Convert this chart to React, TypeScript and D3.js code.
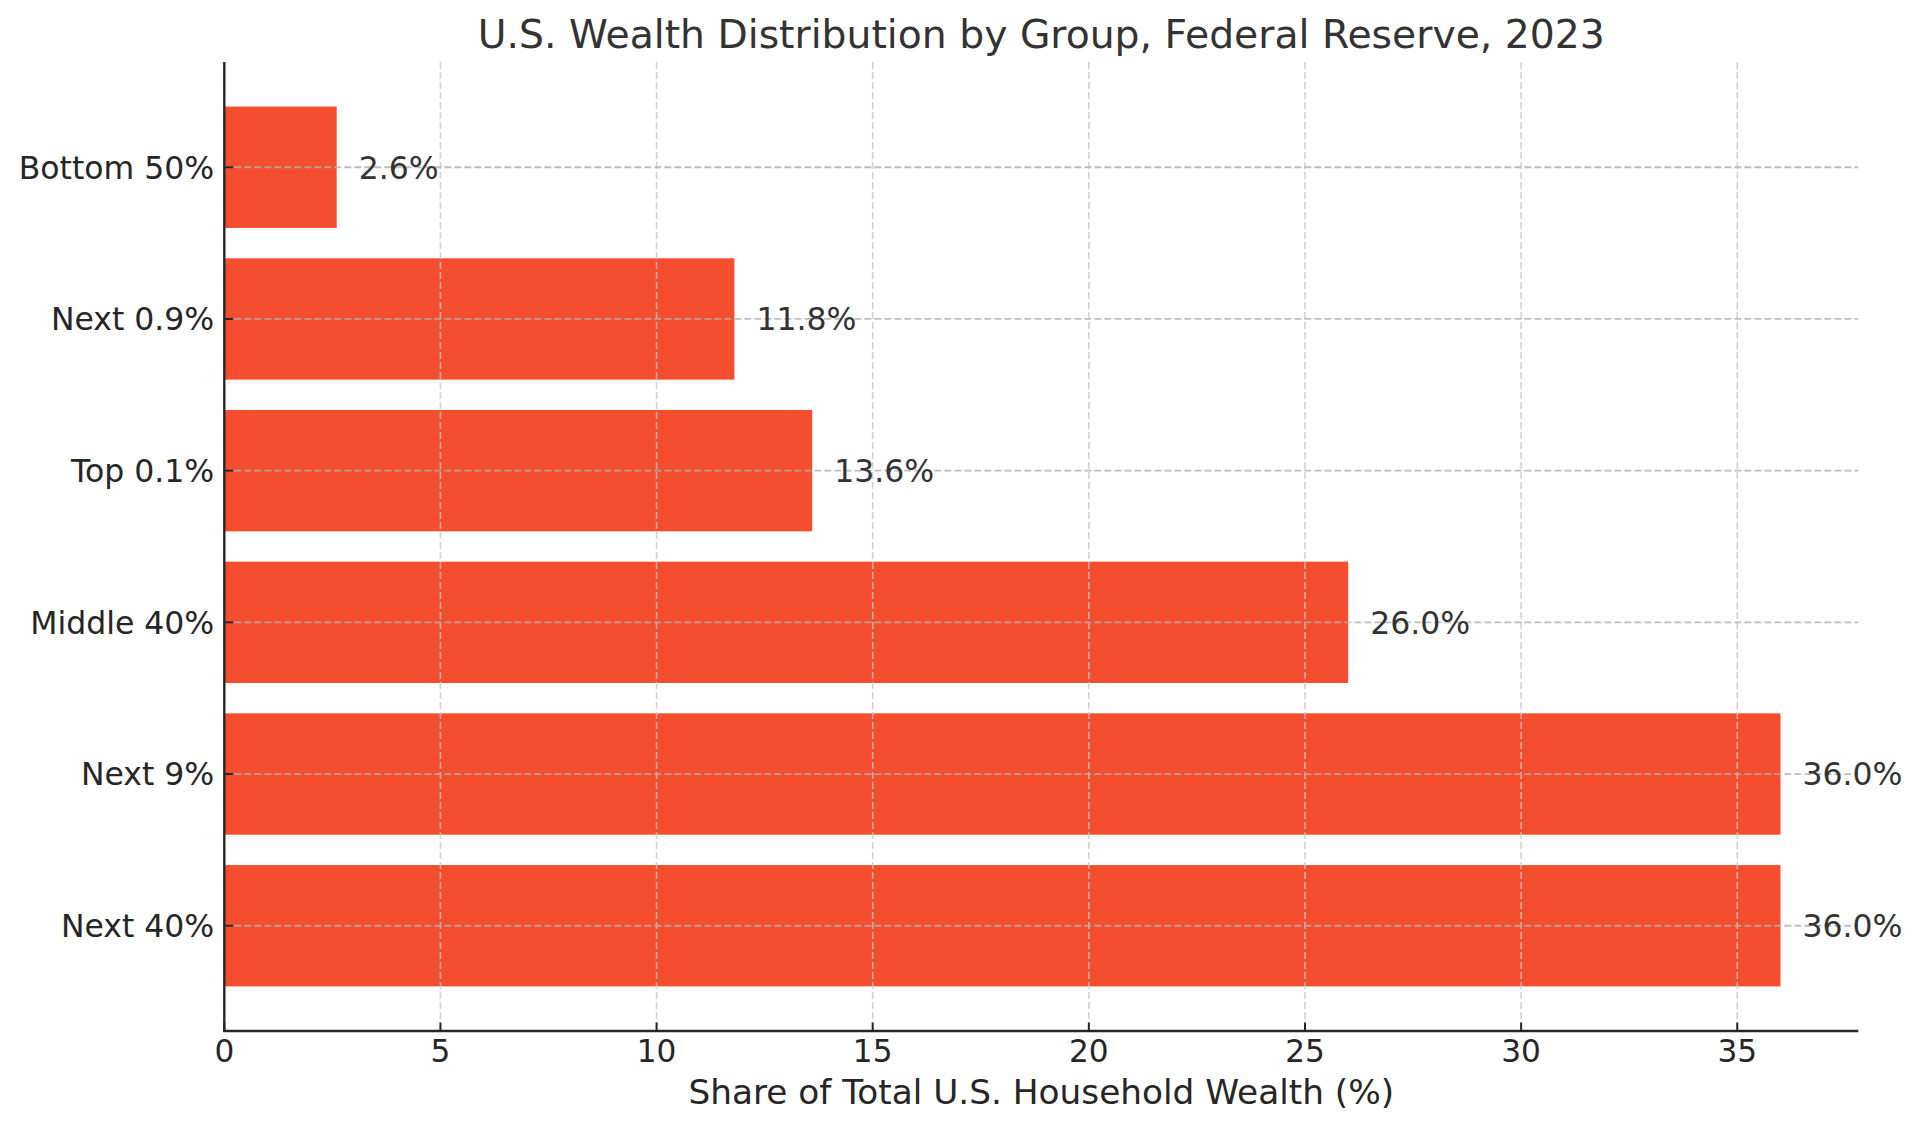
import * as d3 from "d3";

const groups = ["Bottom 50%", "Next 0.9%", "Top 0.1%", "Middle 40%", "Next 9%", "Next 40%"];
const shares = [2.6, 11.8, 13.6, 26.0, 36.0, 36.0];
const xTicks = [0, 5, 10, 15, 20, 25, 30, 35];

const W = 1920;
const H = 1130;
const plot = { left: 224.3, right: 1858.3, top: 62, bottom: 1031 };
const font = "'DejaVu Sans', sans-serif";
const barColor = "#f44e2f";

export default function App() {
  const x = d3.scaleLinear().domain([0, 37.8]).range([plot.left, plot.right]);
  const y = d3
    .scaleBand<string>()
    .domain(groups)
    .range([plot.top, plot.bottom])
    .paddingInner(0.2)
    .paddingOuter(0.294);
  const bw = y.bandwidth();

  return (
    <div style={{ position: "fixed", left: 0, top: 0, width: W, height: H, background: "#fff" }}>
      <svg width={W} height={H} style={{ display: "block" }} fontFamily={font}>
        <rect width={W} height={H} fill="#fff" />

        {/* bars */}
        {groups.map((g, i) => (
          <rect
            key={g}
            x={x(0)}
            y={y(g)!}
            width={x(shares[i]) - x(0)}
            height={bw}
            fill={barColor}
          />
        ))}

        {/* vertical grid */}
        {xTicks.map((t) => (
          <line
            key={"vg" + t}
            x1={x(t)}
            x2={x(t)}
            y1={plot.top}
            y2={plot.bottom}
            stroke="#c8c8c8"
            strokeWidth={1.6}
            strokeDasharray="7,3"
            opacity={0.8}
          />
        ))}

        {/* horizontal grid */}
        {groups.map((g) => (
          <line
            key={"hg" + g}
            x1={plot.left}
            x2={plot.right}
            y1={y(g)! + bw / 2}
            y2={y(g)! + bw / 2}
            stroke="#b0b0b0"
            strokeWidth={1.8}
            strokeDasharray="7,3"
            opacity={0.8}
          />
        ))}

        {/* value labels */}
        {groups.map((g, i) => (
          <text
            key={"v" + g}
            x={x(shares[i]) + 22}
            y={y(g)! + bw / 2}
            dy="0.36em"
            fontSize={31.5}
            fill="#333"
          >
            {shares[i].toFixed(1) + "%"}
          </text>
        ))}

        {/* axes */}
        <line x1={plot.left} x2={plot.left} y1={plot.top} y2={plot.bottom + 1} stroke="#262626" strokeWidth={2.4} />
        <line x1={plot.left - 1} x2={plot.right} y1={plot.bottom} y2={plot.bottom} stroke="#262626" strokeWidth={2.4} />

        {xTicks.map((t) => (
          <g key={"xt" + t}>
            <line x1={x(t)} x2={x(t)} y1={plot.bottom} y2={plot.bottom - 8.5} stroke="#262626" strokeWidth={2} />
            <text x={x(t)} y={plot.bottom + 31} textAnchor="middle" fontSize={31.2} fill="#262626">
              {t}
            </text>
          </g>
        ))}

        {groups.map((g) => (
          <g key={"yt" + g}>
            <line
              x1={plot.left}
              x2={plot.left + 8.5}
              y1={y(g)! + bw / 2}
              y2={y(g)! + bw / 2}
              stroke="#262626"
              strokeWidth={2}
            />
            <text
              x={plot.left - 10}
              y={y(g)! + bw / 2}
              dy="0.36em"
              textAnchor="end"
              fontSize={31.5}
              fill="#262626"
            >
              {g}
            </text>
          </g>
        ))}

        {/* titles */}
        <text x={(plot.left + plot.right) / 2} y={48} textAnchor="middle" fontSize={39.3} fill="#333">
          U.S. Wealth Distribution by Group, Federal Reserve, 2023
        </text>
        <text x={(plot.left + plot.right) / 2} y={1104} textAnchor="middle" fontSize={34.3} fill="#262626">
          Share of Total U.S. Household Wealth (%)
        </text>
      </svg>
    </div>
  );
}
